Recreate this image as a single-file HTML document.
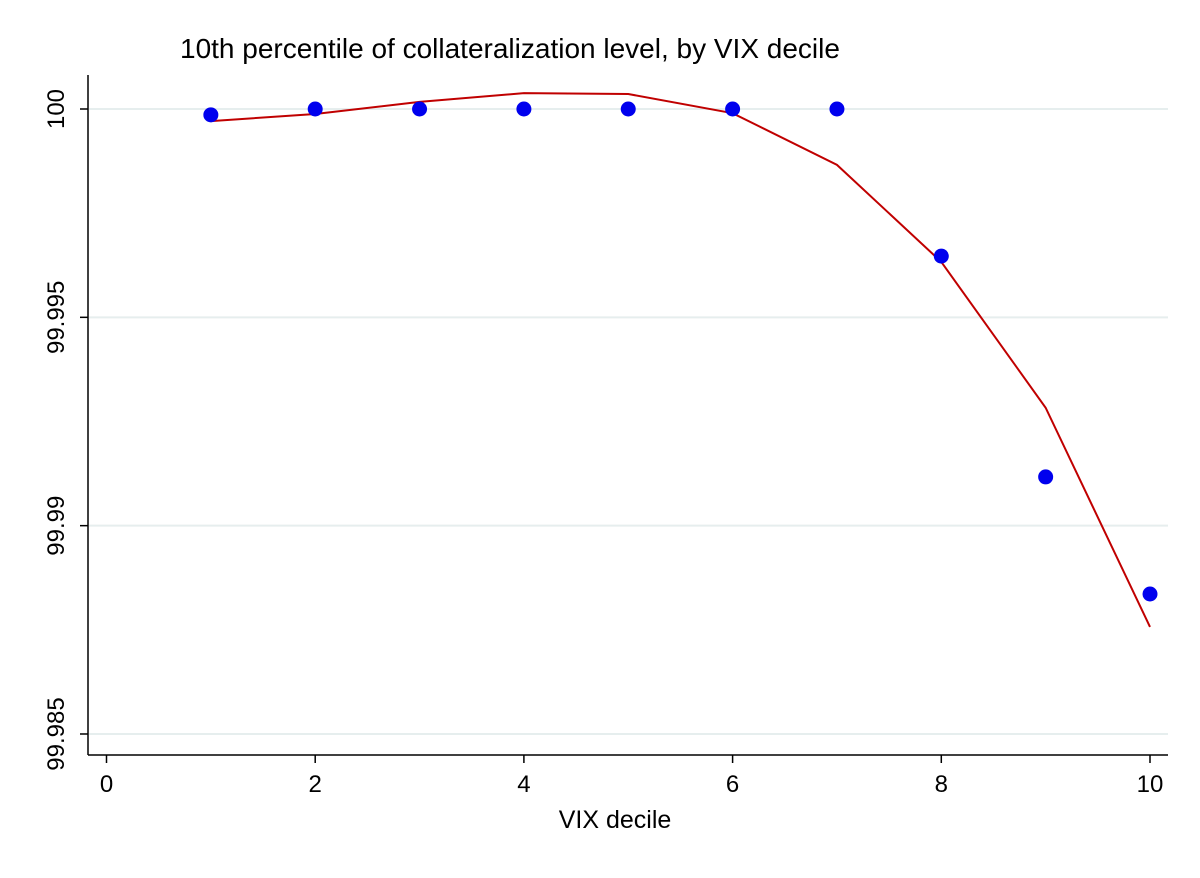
<!DOCTYPE html>
<html><head><meta charset="utf-8"><style>
body{margin:0;background:#fff}
svg text{font-family:"Liberation Sans",sans-serif;fill:#000}
</style></head><body>
<svg id="chart" width="1200" height="873" viewBox="0 0 1200 873" xmlns="http://www.w3.org/2000/svg">
<rect width="1200" height="873" fill="#fff"/>
<text x="180" y="58" font-size="28">10th percentile of collateralization level, by VIX decile</text>
<g id="grid"></g>
<line x1="88" y1="75" x2="88" y2="755" stroke="#000" stroke-width="1.5"/>
<line x1="88" y1="755" x2="1168" y2="755" stroke="#000" stroke-width="1.5"/>
<g id="ticks"></g>
<g id="series"></g>
<text x="615" y="828" font-size="25" text-anchor="middle">VIX decile</text>
</svg>
<script>
const deciles=[1,2,3,4,5,6,7,8,9,10];
const dotValues=[99.99986,100,100,100,100,100,100,99.99647,99.99117,99.98836];
const fitValues=[99.99971,99.99988,100.00017,100.00038,100.00036,99.9999,99.99866,99.99633,99.99283,99.98757];
const yTicks=[100,99.995,99.99,99.985];
const yTickLabels=["100","99.995","99.99","99.985"];
const xTicks=[0,2,4,6,8,10];
const ns="http://www.w3.org/2000/svg";
function x(v){return 106.5+v*104.35;}
function y(v){return 109+(100-v)/0.005*208.33;}
function mk(t,a,p){const e=document.createElementNS(ns,t);for(const k in a)e.setAttribute(k,a[k]);p.appendChild(e);return e;}
const grid=document.getElementById('grid'),ticks=document.getElementById('ticks'),ser=document.getElementById('series');
yTicks.forEach((v,i)=>{
 const g=mk('line',{x1:89,x2:1168,y1:y(v),y2:y(v),stroke:'#e6eeee','stroke-width':2},grid);
 
 
 const t=mk('line',{x1:80,x2:88,y1:y(v),y2:y(v),stroke:'#000','stroke-width':1.5},ticks);
 
 
 const l=mk('text',{x:0,y:0,'font-size':24,'text-anchor':'middle',transform:`translate(64,${y(v)}) rotate(-90)`},ticks);
 l.textContent=yTickLabels[i];
 
 
});
xTicks.forEach(v=>{
 const t=mk('line',{x1:x(v),x2:x(v),y1:755,y2:763,stroke:'#000','stroke-width':1.5},ticks);
 
 
 const l=mk('text',{x:x(v),y:792,'font-size':24,'text-anchor':'middle'},ticks);
 l.textContent=String(v);
 
 
});
const pl=mk('polyline',{points:deciles.map((d,i)=>x(d)+','+y(fitValues[i])).join(' '),fill:'none',stroke:'#c00000','stroke-width':2},ser);


deciles.forEach((d,i)=>{
 const c=mk('circle',{cx:x(d),cy:y(dotValues[i]),r:7.5,fill:'#0000ee'},ser);
 
 
});
</script>
</body></html>
